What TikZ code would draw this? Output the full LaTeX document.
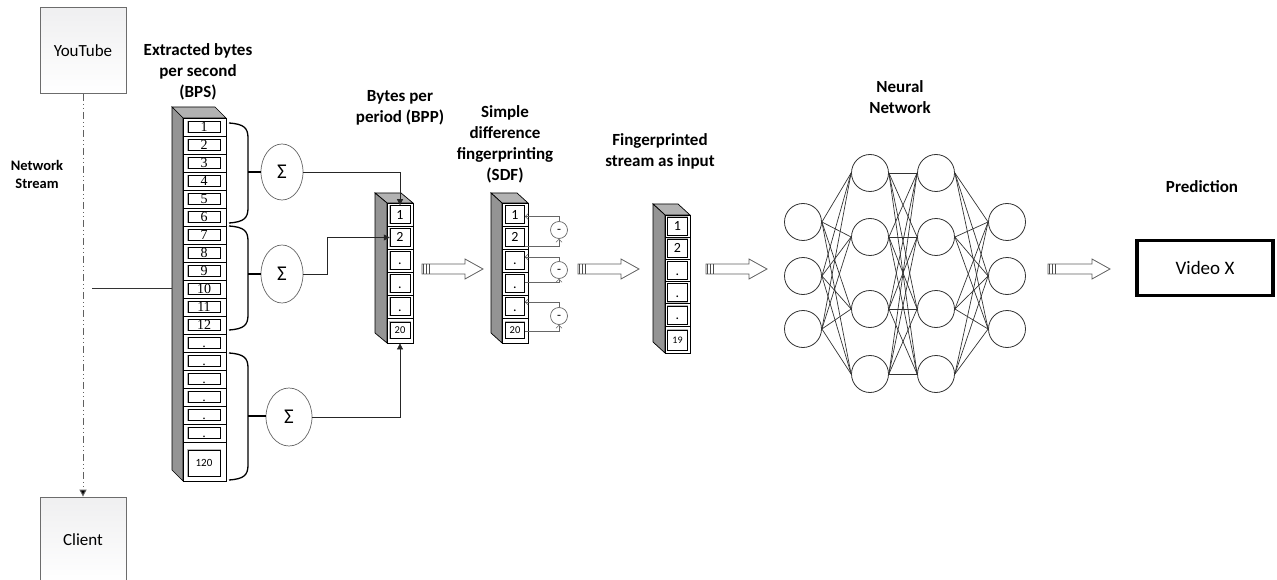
\documentclass[tikz,border=0pt]{standalone}
\usepackage{fontspec}
\setmainfont{Carlito}
\newfontfamily\digserif{Liberation Serif}
\usetikzlibrary{shapes.geometric,arrows.meta,calc}

\newcommand{\colframe}[7]{%
  \pgfmathsetmacro{\cfD}{#6-#5}%
  \pgfmathsetmacro{\cfXb}{#4-(#3-#2)}%
  \pgfmathsetmacro{\cfYs}{#7-\cfD}%
  \pgfmathsetmacro{\cfW}{#4-#3}%
  \pgfmathsetmacro{\cfH}{#7-#6}%
  \pgfmathsetmacro{\cfX}{(#3+#4)/2}%
  \pgfmathsetmacro{\cfY}{(#6+#7)/2}%
  \filldraw[topface] (#2,#5) -- (\cfXb,#5) -- (#4,#6) -- (#3,#6) -- cycle;
  \filldraw[sideface] (#2,#5) -- (#3,#6) -- (#3,#7) -- (#2,\cfYs) -- cycle;
  \node[frontface, minimum width=\cfW pt, minimum height=\cfH pt] (#1) at (\cfX,\cfY) {};
}
\newcommand{\blockarr}[3]{% x0, y, head length offset
  \draw[barr] (#1,#2-5) -- (#1+#3,#2-5) -- (#1+#3,#2-10) -- (#1+#3+18,#2) -- (#1+#3,#2+10) -- (#1+#3,#2+5) -- (#1,#2+5) -- cycle;
  \foreach \k in {1.2,4.2,7.2} \draw[stripe] (#1+\k,#2-5) -- (#1+\k,#2+5);
}

\tikzset{
  lab/.style={font=\bfseries\fontsize{17}{21}\selectfont, align=center, inner sep=0},
  endbox/.style={draw=gray!85!black, line width=0.8pt, top color=blue!4!gray!12, bottom color=white,
    minimum width=86pt, minimum height=86pt, inner sep=0, font=\fontsize{17}{20}\selectfont},
  sideface/.style={fill=black!42, draw=black, line width=0.7pt},
  topface/.style={fill=black!30, draw=black, line width=0.7pt},
  frontface/.style={fill=white, draw=black, line width=0.8pt, inner sep=0},
  cellbox/.style={draw=black, line width=0.5pt, fill=white, preaction={draw=gray!55, line width=1.8pt}, inner sep=0},
  rowline/.style={draw=black, line width=0.7pt},
  bpsdig/.style={cellbox, minimum width=32pt, minimum height=11pt, text height=9.4pt, text depth=0pt,
    font=\digserif\fontsize{14}{14}\selectfont},
  smalldig/.style={cellbox, minimum width=20pt, minimum height=18pt, text height=9pt, text depth=0pt,
    font=\fontsize{14}{14}\selectfont},
  sumell/.style={ellipse, draw=gray!80!black, line width=0.7pt, fill=white, inner sep=0,
    font=\fontsize{21}{21}\selectfont},
  bracepath/.style={draw=black, line width=1.3pt},
  conn/.style={draw=black!85, line width=0.7pt, -{Triangle[length=6pt,width=6pt]}},
  minus/.style={circle, draw=gray!80!black, line width=0.7pt, minimum size=17pt, inner sep=0,
    text height=6.4pt, text depth=0pt, font=\fontsize{13}{13}\selectfont},
  sdfarr/.style={draw=gray!80!black, line width=0.6pt, -{Straight Barb[length=3pt,width=6pt]}},
  neuron/.style={circle, draw=black!80, line width=0.8pt, minimum size=37pt, inner sep=0},
  nnline/.style={draw=black!80, line width=0.7pt},
  barr/.style={draw=gray!75!black, line width=0.8pt, fill=white},
  stripe/.style={draw=black!70, line width=1.3pt},
  stream/.style={draw=gray!75!black, line width=1pt, dash pattern=on 7pt off 3pt on 1pt off 3pt on 1pt off 3pt,
    -{Triangle[length=7pt,width=7pt,fill=black]}},
}

\begin{document}
\begin{tikzpicture}[x=1pt,y=-1pt]
\useasboundingbox (0,0) rectangle (1277,580);

% end boxes and stream
\node[endbox] (yt) at (83,50.5) {YouTube};
\node[endbox] (cl) at (83,540) {Client};
\draw[stream] (yt.south) -- (cl.north);
\node[font=\bfseries\fontsize{14.5}{18}\selectfont, align=center, inner sep=0] (nslab) at (37,174) {Network\\Stream};

% titles
\node[lab] (t1) at (198,72) {Extracted bytes\\per second\\(BPS)};
\node[lab] (t2) at (400,108) {Bytes per\\period (BPP)};
\node[lab] (t3) at (505,144) {Simple\\difference\\fingerprinting\\(SDF)};
\node[lab] (t4) at (660,151) {Fingerprinted\\stream as input};
\node[lab] (t5) at (900,97) {Neural\\Network};
\node[lab] (t6) at (1202,187) {Prediction};

% BPS column
\colframe{bps}{172}{183}{226}{107}{118}{481}
\foreach \i/\t in {1/1,2/2,3/3,4/4,5/5,6/6,7/7,8/8,9/9,10/10,11/11,12/12,13/.,14/.,15/.,16/.,17/.,18/.} {
  \pgfmathsetmacro{\yc}{118+18*\i-9}
  \pgfmathsetmacro{\ys}{118+18*\i}
  \draw[rowline] (183,\ys) -- (226,\ys);
  \node[bpsdig] (bps\i) at (204,\yc) {\t};
}
\node[cellbox, minimum width=32pt, minimum height=26pt, font=\fontsize{11}{11}\selectfont] (bps19) at (204,463) {120};

% stream line into BPS
\coordinate (nsa) at (92,288);
\coordinate (nsb) at (172,288);
\draw[draw=black!80, line width=0.8pt] (nsa) -- (nsb);

% braces
\coordinate (br1) at (248,172);
\coordinate (br2) at (248,274);
\coordinate (br3) at (248,416);
\draw[bracepath] (229,123) .. controls (244,124) and (248,128) .. (248,138) -- (248,208) .. controls (248,218) and (244,222) .. (229,223);
\draw[bracepath] (229,226) .. controls (244,227) and (248,231) .. (248,241) -- (248,315) .. controls (248,325) and (244,329) .. (229,330);
\draw[bracepath] (229,353) .. controls (244,354) and (248,358) .. (248,368) -- (248,465) .. controls (248,475) and (244,479) .. (229,480);

\node[sumell, minimum width=42pt, minimum height=56pt] (S1) at (282,172) {Σ};
\node[sumell, minimum width=42pt, minimum height=58pt] (S2) at (282,274) {Σ};
\node[sumell, minimum width=46pt, minimum height=58pt] (S3) at (289,417) {Σ};
\draw[bracepath] (br1) -- (S1.west);
\draw[bracepath] (br2) -- (S2.west);
\draw[bracepath] (br3) -- (S3.west |- br3);

% BPP column
\colframe{bpp}{375}{387}{413}{193}{203}{343}
\foreach \i/\t in {1/1,2/2,3/.,4/.,5/.} {
  \pgfmathsetmacro{\yc}{203+23*\i-11.5}
  \pgfmathsetmacro{\ys}{203+23*\i}
  \draw[rowline] (387,\ys) -- (413,\ys);
  \node[smalldig] (p\i) at (400,\yc) {\t};
}
\node[cellbox, minimum width=20pt, minimum height=16pt, font=\fontsize{10.5}{10.5}\selectfont] (p6) at (400,330) {20};

\draw[conn] (S1.east) -| (p1.north);
\draw[conn] (S2.east) -- ++(24,0) |- (p2.west);
\draw[conn] (S3.east) -| (bpp.south);

% SDF column
\colframe{sdf}{491}{502}{528}{193}{203}{343}
\foreach \i/\t in {1/1,2/2,3/.,4/.,5/.} {
  \pgfmathsetmacro{\yc}{203+23*\i-11.5}
  \pgfmathsetmacro{\ys}{203+23*\i}
  \draw[rowline] (502,\ys) -- (528,\ys);
  \node[smalldig, minimum width=19pt] (s\i) at (515,\yc) {\t};
}
\node[cellbox, minimum width=19pt, minimum height=16pt, font=\fontsize{10.5}{10.5}\selectfont] (s6) at (515,330) {20};

\node[minus] (m1) at (559,230) {-};
\node[minus] (m2) at (559,270) {-};
\node[minus] (m3) at (559,316) {-};
\draw[sdfarr] (m1.north) |- ([yshift=-2pt]s1.east);
\draw[sdfarr] ([yshift=-8.5pt]s2.east) -| (m1.south);
\draw[sdfarr] (m2.north) |- ([yshift=3.5pt]s3.east);
\draw[sdfarr] ([yshift=1.5pt]s4.east) -| (m2.south);
\draw[sdfarr] (m3.north) |- ([yshift=4.5pt]s5.east);
\draw[sdfarr] ([yshift=-1.5pt]s6.east) -| (m3.south);

% Fingerprinted column
\colframe{fp}{653}{665}{690}{204}{215}{353}
\foreach \i/\t in {1/1,2/2,3/.,4/.,5/.} {
  \pgfmathsetmacro{\yc}{215+22.2*\i-11.1}
  \pgfmathsetmacro{\ys}{215+22.2*\i}
  \draw[rowline] (665,\ys) -- (690,\ys);
  \node[smalldig] (f\i) at (677.5,\yc) {\t};
}
\node[cellbox, minimum width=20pt, minimum height=20pt, font=\fontsize{10}{10}\selectfont] (f6) at (677.5,340) {19};

% block arrows
\blockarr{422}{269}{43}
\blockarr{578}{269}{43}
\blockarr{706}{269}{43}
\blockarr{1048}{269}{44}

% neural network
\foreach \j/\y in {1/222,2/276,3/329} \node[neuron] (a\j) at (803,\y) {};
\foreach \j/\y in {1/173,2/237,3/309,4/374} \node[neuron] (b\j) at (870,\y) {};
\foreach \j/\y in {1/173,2/237,3/309,4/374} \node[neuron] (c\j) at (936,\y) {};
\foreach \j/\y in {1/222,2/276,3/329} \node[neuron] (d\j) at (1007,\y) {};
\foreach \p in {1,2,3} \foreach \q in {1,2,3,4} \draw[nnline] (a\p.east) -- (b\q.west);
\foreach \p in {1,2,3,4} \foreach \q in {1,2,3,4} \draw[nnline] (b\p.east) -- (c\q.west);
\foreach \p in {1,2,3,4} \foreach \q in {1,2,3} \draw[nnline] (c\p.east) -- (d\q.west);

% prediction
\node[draw=black, line width=3.2pt, minimum width=136pt, minimum height=55pt, inner sep=0,
  font=\fontsize{19}{19}\selectfont] (pred) at (1205,268) {Video X};
\end{tikzpicture}
\end{document}
